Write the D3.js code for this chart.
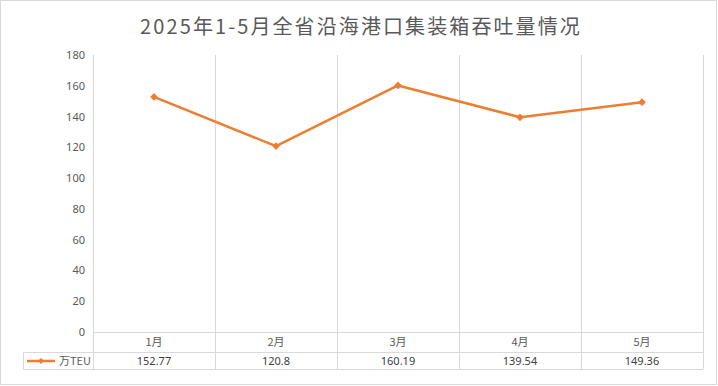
<!DOCTYPE html>
<html>
<head>
<meta charset="utf-8">
<script src="https://d3js.org/d3.v7.min.js"></script>
<style>
  body { margin: 0; background: #fff; }
  text { font-family: "Noto Sans CJK SC", "Noto Sans", sans-serif; }
</style>
</head>
<body>
<div id="chart"></div>
<script>
// data
var months = ["1月", "2月", "3月", "4月", "5月"];
var teu = [152.77, 120.8, 160.19, 139.54, 149.36];
var teuLabels = ["152.77", "120.8", "160.19", "139.54", "149.36"];
var yTicks = [0, 20, 40, 60, 80, 100, 120, 140, 160, 180];
var seriesName = "万TEU";
var title = "2025年1-5月全省沿海港口集装箱吞吐量情况";

var W = 718, H = 386;
var plotL = 93, plotR = 703, plotT = 55, plotB = 332;
var row1 = 352, row2 = 369, legendLeft = 23;
var grid = "#d9d9d9", txt = "#595959", orange = "#ED7D31";

var svg = d3.select("#chart").append("svg")
  .attr("width", W).attr("height", H);

// outer frame
svg.append("rect")
  .attr("x", 0.5).attr("y", 0.5)
  .attr("width", W - 2).attr("height", H - 2)
  .attr("fill", "#fff").attr("stroke", grid);

svg.append("text")
  .attr("x", W / 2 + 2).attr("y", 34)
  .attr("text-anchor", "middle")
  .attr("font-size", 20)
  .attr("letter-spacing", 2.1)
  .attr("fill", txt)
  .text(title);

var x = d3.scaleBand().domain(months).range([plotL, plotR]);
var y = d3.scaleLinear().domain([0, 180]).range([plotB, plotT]);

// vertical grid lines through plot and table
var edges = months.map(function (m) { return x(m); }).concat([plotR]);
svg.selectAll(".vgrid")
  .data(edges)
  .enter().append("line")
  .attr("x1", function (d) { return Math.round(d) + 0.5; })
  .attr("x2", function (d) { return Math.round(d) + 0.5; })
  .attr("y1", plotT).attr("y2", row2)
  .attr("stroke", grid);

// table horizontal lines
svg.append("line").attr("x1", plotL).attr("x2", plotR)
  .attr("y1", plotB + 0.5).attr("y2", plotB + 0.5).attr("stroke", grid);
svg.append("line").attr("x1", legendLeft).attr("x2", plotR)
  .attr("y1", row1 + 0.5).attr("y2", row1 + 0.5).attr("stroke", grid);
svg.append("line").attr("x1", legendLeft).attr("x2", plotR)
  .attr("y1", row2 + 0.5).attr("y2", row2 + 0.5).attr("stroke", grid);
svg.append("line").attr("x1", legendLeft + 0.5).attr("x2", legendLeft + 0.5)
  .attr("y1", row1).attr("y2", row2).attr("stroke", grid);

// y axis labels
var yAxis = svg.append("g")
  .attr("transform", "translate(" + (plotL - 8) + ",0)")
  .call(d3.axisLeft(y).tickValues(yTicks).tickSize(0).tickPadding(0));
yAxis.select(".domain").remove();
yAxis.selectAll("text")
  .attr("fill", txt).attr("font-size", 11)
  .style("font-family", "Noto Sans, sans-serif");

// month row
svg.selectAll(".month")
  .data(months)
  .enter().append("text")
  .attr("x", function (d) { return x(d) + x.bandwidth() / 2; })
  .attr("y", (plotB + row1) / 2 + 4)
  .attr("text-anchor", "middle")
  .attr("font-size", 11).attr("fill", txt)
  .text(function (d) { return d; });

// value row
svg.selectAll(".val")
  .data(teuLabels)
  .enter().append("text")
  .attr("x", function (d, i) { return x(months[i]) + x.bandwidth() / 2; })
  .attr("y", (row1 + row2) / 2 + 4)
  .attr("text-anchor", "middle")
  .attr("font-size", 11).attr("fill", "#404040")
  .style("font-family", "Noto Sans, sans-serif")
  .text(function (d) { return d; });

// diamond marker = square turned 45deg
var marker = d3.symbol().type(d3.symbolSquare);

// legend key
var ly = (row1 + row2) / 2 + 0.5;
svg.append("line").attr("x1", 27).attr("x2", 55)
  .attr("y1", ly).attr("y2", ly)
  .attr("stroke", orange).attr("stroke-width", 2.5);
svg.append("path")
  .attr("d", marker.size(18)())
  .attr("transform", "translate(41," + ly + ") rotate(45)")
  .attr("fill", orange);
svg.append("text")
  .attr("x", 59).attr("y", ly + 4)
  .attr("font-size", 11).attr("fill", txt)
  .text(seriesName);

// line
var line = d3.line()
  .x(function (d, i) { return x(months[i]) + x.bandwidth() / 2; })
  .y(function (d) { return y(d); });

svg.append("path")
  .datum(teu)
  .attr("d", line)
  .attr("fill", "none")
  .attr("stroke", orange)
  .attr("stroke-width", 2.5)
  .attr("stroke-linejoin", "round");

svg.selectAll(".pt")
  .data(teu)
  .enter().append("path")
  .attr("d", marker.size(30)())
  .attr("transform", function (d, i) {
    return "translate(" + (x(months[i]) + x.bandwidth() / 2) + "," + y(d) + ") rotate(45)";
  })
  .attr("fill", orange);
</script>
</body>
</html>
